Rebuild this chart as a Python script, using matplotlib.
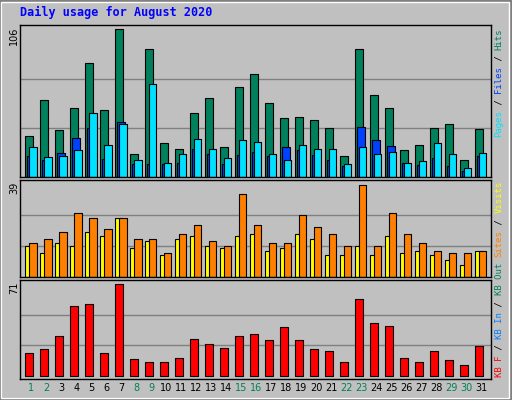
# Webalizer style daily usage chart, August 2020
import matplotlib
matplotlib.use('Agg')
import matplotlib.pyplot as plt
from matplotlib.patches import Rectangle

days = list(range(1, 32))
weekend = [1, 2, 8, 9, 15, 16, 22, 23, 29, 30]

hits = [29.7, 55.6, 33.6, 49.2, 81.5, 48.4, 106, 16.8, 91.6, 24.7, 20.4, 45.6, 56.4, 21.8, 64.3, 73.6,
        52.8, 42.7, 43.4, 41.2, 35.5, 15.3, 91.6, 58.5, 49.2, 19.7, 23.3, 35.5, 38.4, 12.5, 34.8]
files = [14.9, 12, 17.5, 28.3, 35.5, 12.7, 39.8, 9.6, 9.6, 9.6, 10.3, 20.4, 16.8, 9.6, 15.6, 18.2,
         14.9, 21.8, 19.7, 15.6, 12, 7.7, 36.2, 26.9, 22.5, 10.3, 8.9, 13.9, 7.7, 4.6, 14.9]
pages = [21.8, 14.6, 15.3, 19.7, 45.6, 23.3, 37.7, 12.5, 66.4, 10.3, 16.8, 27.6, 20.4, 13.9, 26.9, 25.4,
         16.8, 12.5, 23.3, 20.4, 20.4, 9.6, 21.8, 16.8, 18.2, 10.3, 11.8, 24.7, 16.8, 6.7, 17.5]
visits = [13.1, 10.2, 14.3, 13.1, 18.9, 17.3, 24.8, 12.3, 15.2, 9.3, 16.0, 17.3, 13.1, 12.3, 17.3, 18.1,
          11, 12.3, 18.1, 16, 9.3, 9.3, 13.1, 9.3, 17.3, 10.2, 11, 9.3, 7.2, 5.2, 11]
sites = [14.3, 16, 18.9, 26.9, 24.8, 20.2, 24.8, 16, 16, 10.2, 18.1, 21.9, 15.2, 13.1, 34.8, 21.9,
         14.3, 14.3, 26, 21, 18.1, 13.1, 38.6, 13.1, 26.9, 18.1, 14.3, 11, 10.2, 10.2, 11]
kbytes = [17.4, 20.5, 30.6, 53.9, 55.4, 17.4, 71, 12.7, 10.4, 10.4, 13.5, 28.2, 24.4, 21.2, 30.6, 32.1,
          27.5, 37.6, 27.5, 20.5, 18.9, 10.4, 59.3, 40.7, 38.3, 13.5, 10.4, 18.9, 11.9, 8, 22.8]

BG = '#C0C0C0'
HITS, FILES, PAGES = '#00805C', '#0040FF', '#00E0FF'
VISITS, SITES, KB = '#FFFF00', '#FF8000', '#FF0000'

W, H = 512, 400
fig = plt.figure(figsize=(W / 100, H / 100), dpi=100, facecolor=BG)

# bevel border
fig.patches.append(Rectangle((0, 0), 1, 1, transform=fig.transFigure, fill=False,
                             edgecolor='#808080', lw=3))
fig.patches.append(Rectangle((0.002, 0.004), 0.993, 0.992, transform=fig.transFigure, fill=False,
                             edgecolor='white', lw=1))


def axes_px(x0, y0, x1, y1):
    return fig.add_axes([x0 / W, 1 - y1 / H, (x1 - x0) / W, (y1 - y0) / H])


def style(ax, top, maxv):
    ax.set_facecolor(BG)
    ax.set_xlim(0, 470.7 / 15)
    ax.set_ylim(0, top)
    ax.set_xticks([])
    ax.set_yticks([])
    for y in (maxv / 3, 2 * maxv / 3):
        ax.axhline(y, color='#808080', lw=1, zorder=0)
    for s in ax.spines.values():
        s.set_color('black')
        s.set_linewidth(1)


x = [d - 1 for d in days]
bw = 0.49
kw = dict(width=bw, align='edge', edgecolor='black', linewidth=0.8)

ax1 = axes_px(20, 25, 490.7, 177)
style(ax1, 109.1, 106)
ax1.bar([v + 0.35 for v in x], hits, color=HITS, **kw)
ax1.bar([v + 0.48 for v in x], files, color=FILES, **kw)
ax1.bar([v + 0.61 for v in x], pages, color=PAGES, **kw)

ax2 = axes_px(20, 180, 490.7, 277)
style(ax2, 40.7, 39)
ax2.bar([v + 0.35 for v in x], visits, color=VISITS, **kw)
ax2.bar([v + 0.61 for v in x], sites, color=SITES, **kw)

ax3 = axes_px(20, 280, 490.7, 379)
style(ax3, 74.1, 71)
ax3.set_ylim(-2.6, 74.1)
ax3.bar([v + 0.35 for v in x], kbytes, color=KB, **kw)

# max value labels
for ypx, lab in ((27, '106'), (182, '39'), (282, '71')):
    fig.text(14 / W, 1 - ypx / H, lab, rotation=90, ha='center', va='top',
             fontsize=7, family='DejaVu Sans')

# day labels
for d in days:
    ax3.text(d - 1 + 0.75, -0.09, str(d), transform=ax3.get_xaxis_transform(),
             ha='center', va='center', fontsize=7,
             color=HITS if d in weekend else 'black')

fig.text(20 / W, 1 - 12 / H, 'Daily usage for August 2020', ha='left', va='center',
         fontsize=8.5, fontweight='bold', family='DejaVu Sans Mono', color='#0000FF')

# right-hand legends, built piece by piece bottom-up
CH = 5.43


def legend(ybottom, pieces):
    pos = 0
    for txt, col in pieces:
        fig.text(499 / W, 1 - (ybottom - pos * CH) / H, txt, rotation=90,
                 rotation_mode='anchor', ha='left', va='center',
                 fontsize=6.5, family='DejaVu Sans Mono', color=col)
        pos += len(txt)


legend(136.7, [('Pages', PAGES), (' / ', 'black'), ('Files', FILES), (' / ', 'black'), ('Hits', HITS)])
legend(256.7, [('Sites', SITES), (' / ', 'black'), ('Visits', VISITS)])
legend(376.7, [('KB F', KB), (' / ', 'black'), ('KB In', '#0080FF'), (' / ', 'black'), ('KB Out', HITS)])

fig.savefig('out.png', dpi=100, facecolor=BG)
